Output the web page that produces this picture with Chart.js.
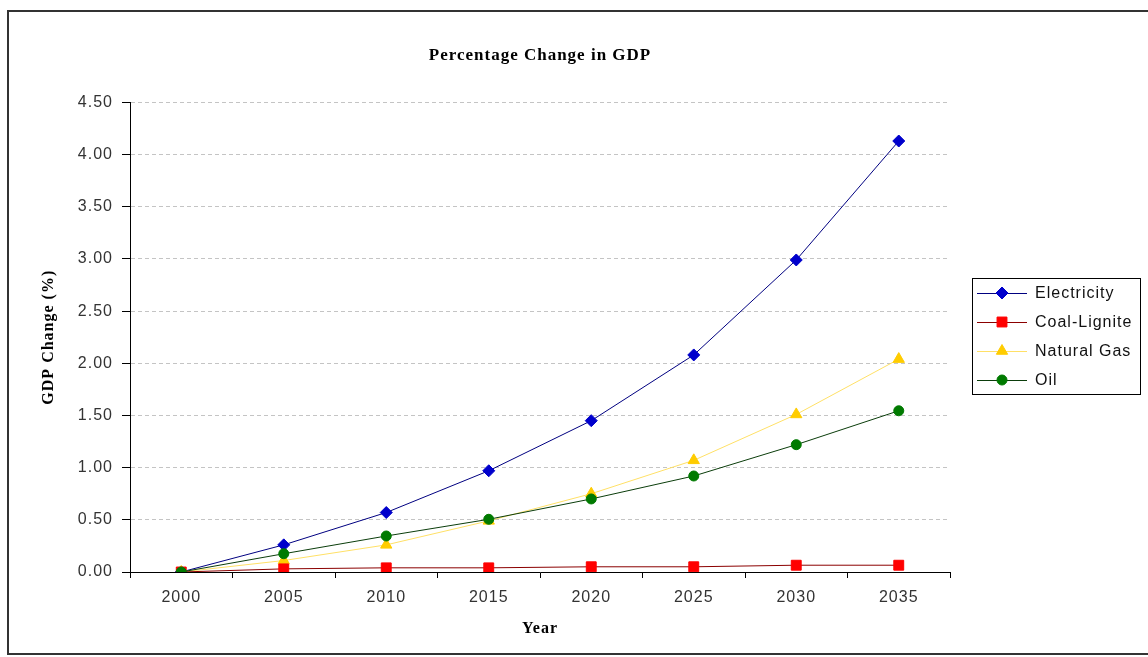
<!DOCTYPE html>
<html>
<head>
<meta charset="utf-8">
<script src="https://cdn.jsdelivr.net/npm/chart.js@4/dist/chart.umd.min.js"></script>
<style>
  html, body { margin: 0; padding: 0; background: #fff; }
  #wrap { width: 1148px; height: 657px; }
</style>
</head>
<body>
<div id="wrap"><canvas id="gdp" width="1148" height="657"></canvas></div>
<script>
const years = ['2000', '2005', '2010', '2015', '2020', '2025', '2030', '2035'];
const electricity = [0, 0.26, 0.57, 0.97, 1.45, 2.08, 2.99, 4.13];
const coalLignite = [0, 0.03, 0.04, 0.04, 0.05, 0.05, 0.065, 0.065];
const naturalGas = [0, 0.11, 0.26, 0.49, 0.75, 1.07, 1.51, 2.04];
const oil = [0, 0.175, 0.345, 0.505, 0.70, 0.92, 1.22, 1.545];

const series = [
    { label: 'Electricity', data: electricity, line: '#000080', mark: '#0000cc', style: 'rectRot', radius: 6, order: 3 },
    { label: 'Coal-Lignite', data: coalLignite, line: '#8b0000', mark: '#ff0000', style: 'rect', radius: 7, order: 1 },
    { label: 'Natural Gas', data: naturalGas, line: '#ffe066', mark: '#ffcc00', style: 'triangle', radius: 6.5, order: 2 },
    { label: 'Oil', data: oil, line: '#0b3d0b', mark: '#007a00', style: 'circle', radius: 5, order: 0 }
];

// white page, frame and letter spacing like the old spreadsheet picture
const framePlugin = {
    id: 'frame',
    beforeDraw(chart) {
        const ctx = chart.ctx;
        ctx.save();
        ctx.fillStyle = '#fff';
        ctx.fillRect(0, 0, chart.width, chart.height);
        ctx.strokeStyle = '#333';
        ctx.lineWidth = 2;
        ctx.strokeRect(8, 11, 1160, 643);
        ctx.restore();
        ctx.letterSpacing = '1px';
    }
};

// boxed legend on the right, line with marker
const boxLegend = {
    id: 'boxLegend',
    afterDraw(chart) {
        const ctx = chart.ctx;
        const x0 = 972, y0 = 278, w = 168, h = 116, rowH = 29;
        ctx.save();
        ctx.fillStyle = '#fff';
        ctx.fillRect(x0, y0, w, h);
        ctx.strokeStyle = '#000';
        ctx.lineWidth = 1;
        ctx.strokeRect(x0 + 0.5, y0 + 0.5, w, h);
        ctx.font = '16px "Liberation Sans", Arial, sans-serif';
        ctx.textBaseline = 'middle';
        ctx.letterSpacing = '1px';
        series.forEach((s, i) => {
            const y = y0 + 15 + i * rowH;
            ctx.strokeStyle = s.line;
            ctx.lineWidth = 1;
            ctx.beginPath();
            ctx.moveTo(977, y + 0.5);
            ctx.lineTo(1027, y + 0.5);
            ctx.stroke();
            ctx.fillStyle = s.mark;
            ctx.strokeStyle = s.mark;
            Chart.helpers.drawPoint(ctx, { pointStyle: s.style, radius: s.radius, rotation: 0, borderWidth: 1 }, 1002, y);
            ctx.fillStyle = '#111';
            ctx.fillText(s.label, 1035, y + 1);
        });
        ctx.restore();
    }
};

new Chart(
    document.getElementById('gdp'),
    {
        type: 'line',
        data: {
            labels: years,
            datasets: series.map(s => ({
                label: s.label,
                data: s.data,
                order: s.order,
                borderColor: s.line,
                borderWidth: 1,
                backgroundColor: s.mark,
                pointBackgroundColor: s.mark,
                pointBorderColor: s.mark,
                pointStyle: s.style,
                pointRadius: s.radius,
                pointBorderWidth: 1,
                tension: 0,
                fill: false
            }))
        },
        options: {
            responsive: false,
            animation: false,
            devicePixelRatio: 1,
            layout: {
                padding: { left: 8, top: 11, right: 198, bottom: 3 }
            },
            plugins: {
                legend: { display: false },
                tooltip: { enabled: false },
                title: {
                    display: true,
                    fullSize: false,
                    text: 'Percentage Change in GDP',
                    color: '#000',
                    font: { family: '"Liberation Serif", "Times New Roman", serif', size: 17, weight: 'bold' },
                    padding: { top: 34, bottom: 37 }
                }
            },
            scales: {
                x: {
                    offset: true,
                    afterFit(scale) { scale.height = 82; },
                    grid: {
                        offset: true,
                        drawOnChartArea: false,
                        drawTicks: true,
                        tickLength: 6,
                        tickColor: '#000'
                    },
                    border: { color: '#000', width: 1 },
                    ticks: {
                        color: '#333',
                        padding: 10,
                        maxRotation: 0,
                        font: { family: '"Liberation Sans", Arial, sans-serif', size: 16 }
                    },
                    title: {
                        display: true,
                        text: 'Year',
                        color: '#000',
                        font: { family: '"Liberation Serif", "Times New Roman", serif', size: 16, weight: 'bold' },
                        padding: { top: 4, bottom: 16 }
                    }
                },
                y: {
                    min: 0,
                    max: 4.5,
                    afterFit(scale) { scale.width = 122; },
                    grid: {
                        color: '#c4c4c4',
                        lineWidth: 1,
                        drawTicks: true,
                        tickLength: 8,
                        tickColor: '#000',
                        tickBorderDash: []
                    },
                    border: { color: '#000', width: 1, dash: [4, 3] },
                    ticks: {
                        stepSize: 0.5,
                        color: '#333',
                        padding: 9,
                        font: { family: '"Liberation Sans", Arial, sans-serif', size: 16 },
                        callback: v => Number(v).toFixed(2)
                    },
                    title: {
                        display: true,
                        text: 'GDP Change (%)',
                        color: '#000',
                        font: { family: '"Liberation Serif", "Times New Roman", serif', size: 16, weight: 'bold' },
                        padding: { top: 31, bottom: 0 }
                    }
                }
            }
        },
        plugins: [framePlugin, boxLegend]
    }
);
</script>
</body>
</html>
